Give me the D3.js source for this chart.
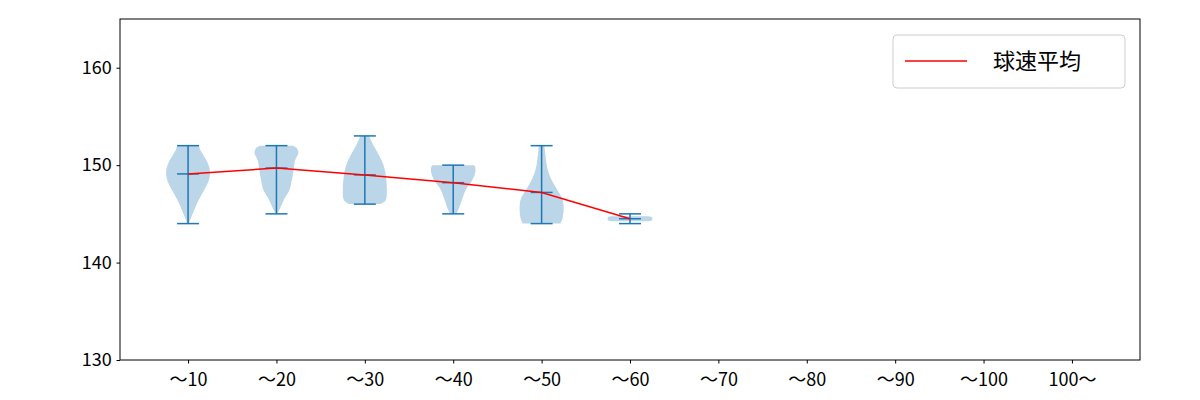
<!DOCTYPE html>
<html><head><meta charset="utf-8">
<script src="https://cdn.jsdelivr.net/npm/d3@7"></script>
<style>body{margin:0;background:#fff}text{font-family:"Noto Sans CJK JP","DejaVu Sans",sans-serif}</style>
</head><body><div id="chart"></div>
<script>
const categories = ["〜10","〜20","〜30","〜40","〜50","〜60","〜70","〜80","〜90","〜100","100〜"];
const means = [149.1, 149.7, 149.0, 148.2, 147.2, 144.5];
const mins = [144, 145, 146, 145, 144, 144];
const maxs = [152, 152, 153, 150, 152, 145];
// violin profiles: [value, relative half-width]
const profiles = [
  [[144,0.03],[144.5,0.12],[145.5,0.3],[146.5,0.5],[147.5,0.75],[148.5,0.95],[149.3,1],[150.2,0.9],[151,0.7],[151.6,0.55],[152,0.5]],
  [[145,0.03],[145.5,0.15],[146.5,0.35],[147.5,0.6],[148.5,0.7],[149.5,0.78],[150.5,0.85],[151.3,1],[151.8,0.9],[152,0.75]],
  [[146,0.7],[146.4,0.95],[147.5,1],[149,0.95],[150,0.85],[151,0.65],[152,0.4],[153,0.2]],
  [[145,0.15],[145.8,0.3],[146.8,0.45],[147.6,0.6],[148.4,0.85],[149.2,1],[149.8,1],[150,0.95]],
  [[144,0.85],[144.5,0.95],[145.5,1],[146.5,0.95],[147.5,0.7],[148.5,0.45],[149.5,0.28],[150.5,0.2],[151.5,0.15],[152,0.13]],
  [[144.25,0.8],[144.35,1],[144.65,1],[144.75,0.8]]
];
const legendLabel = "球速平均";

const W = 1200, H = 400;
const m = {l:120, r:60, t:19, b:40};
const svg = d3.select("#chart").append("svg").attr("width", W).attr("height", H);
const x = d3.scaleLinear().domain([0.23, 11.77]).range([m.l, W - m.r]);
const y = d3.scaleLinear().domain([130, 165]).range([H - m.b, m.t]);
const hw = 22;

const g = svg.append("g");
profiles.forEach((p, i) => {
  const cx = x(i + 1);
  const area = d3.area().curve(d3.curveCatmullRom)
    .y(d => y(d[0])).x0(d => cx - d[1] * hw).x1(d => cx + d[1] * hw);
  g.append("path").datum(p).attr("d", area).attr("fill", "#1f77b4").attr("fill-opacity", 0.3);
  const c = "#1f77b4";
  g.append("line").attr("x1", cx).attr("x2", cx).attr("y1", y(mins[i])).attr("y2", y(maxs[i])).attr("stroke", c).attr("stroke-width", 1.5);
  [mins[i], maxs[i], means[i]].forEach(v => {
    g.append("line").attr("x1", cx - 11).attr("x2", cx + 11).attr("y1", y(v)).attr("y2", y(v)).attr("stroke", c).attr("stroke-width", 1.5);
  });
});

svg.append("path").datum(means)
  .attr("d", d3.line().x((d, i) => x(i + 1)).y(d => y(d)))
  .attr("fill", "none").attr("stroke", "red").attr("stroke-width", 1.5);

const xa = svg.append("g").attr("transform", `translate(0,${H - m.b})`)
  .call(d3.axisBottom(x).tickValues(d3.range(1, 12)).tickFormat(d => categories[d - 1]).tickSizeOuter(0).tickSize(3.5));
const ya = svg.append("g").attr("transform", `translate(${m.l},0)`)
  .call(d3.axisLeft(y).tickValues([130, 140, 150, 160]).tickSizeOuter(0).tickSize(3.5));
[xa, ya].forEach(a => {
  a.selectAll("text").attr("font-size", 18).attr("fill", "#000").style("font-family", '"Noto Sans CJK JP",sans-serif');
  a.select(".domain").remove();
  a.selectAll("line").attr("stroke", "#000");
});
xa.selectAll("text").attr("dy", "1.1em");
ya.selectAll("text").attr("dx", "-0.1em");
svg.append("rect").attr("x", m.l).attr("y", m.t).attr("width", W - m.l - m.r).attr("height", H - m.t - m.b)
  .attr("fill", "none").attr("stroke", "#000").attr("stroke-width", 1);

const lg = svg.append("g").attr("transform", "translate(893,35)");
lg.append("rect").attr("width", 232).attr("height", 53).attr("rx", 4).attr("fill", "#fff").attr("stroke", "#ccc");
lg.append("line").attr("x1", 12).attr("x2", 74).attr("y1", 26).attr("y2", 26).attr("stroke", "red").attr("stroke-width", 1.5);
lg.append("text").attr("x", 100).attr("y", 34).attr("font-size", 22).text(legendLabel);
</script></body></html>
